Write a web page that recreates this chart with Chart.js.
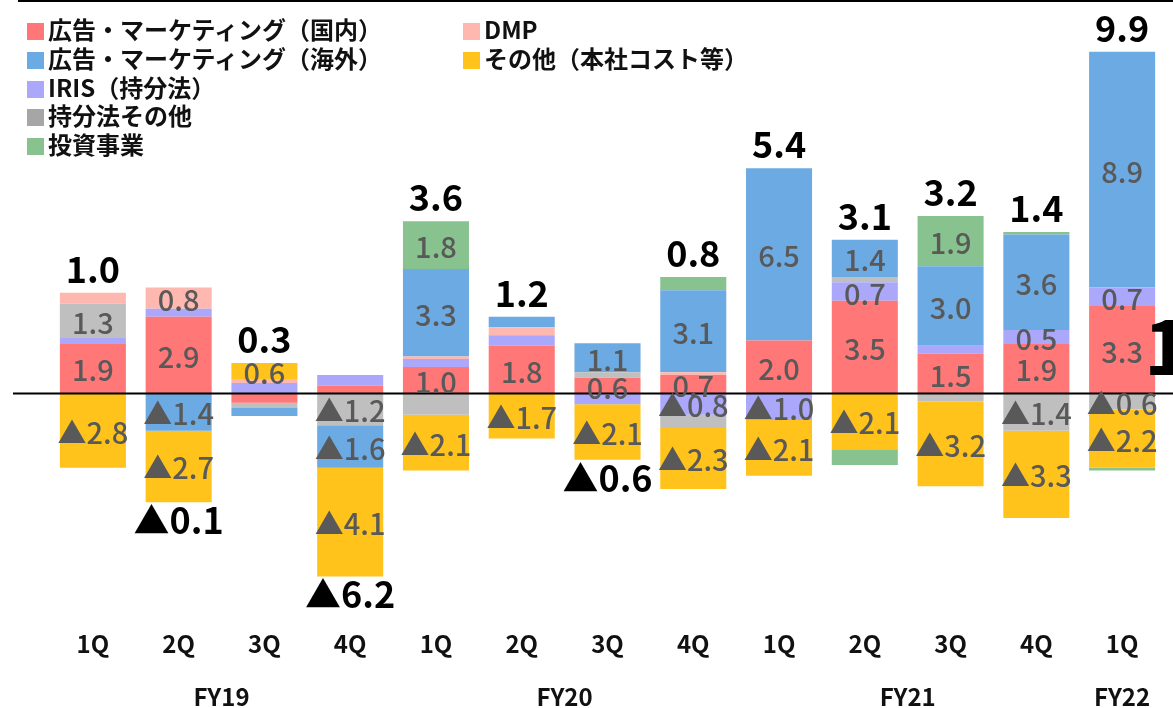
<!DOCTYPE html>
<html>
<head>
<meta charset="utf-8">
<script src="https://cdn.jsdelivr.net/npm/chart.js@4.4.1/dist/chart.umd.min.js"></script>
<style>
html, body { margin: 0; padding: 0; background: #fff; }
#wrap { position: relative; width: 1173px; height: 708px; overflow: hidden; }
#chart { position: absolute; left: 0; top: 0; }
#topline { position: absolute; left: 18px; top: 0; width: 1155px; height: 2px; background: #000; }
.legend { position: absolute; font-family: "Noto Sans CJK JP", sans-serif; font-weight: bold; font-size: 24px; color: #111; line-height: 28.8px; }
.legend div { white-space: nowrap; }
.legend span { display: inline-block; width: 17px; height: 17px; margin-right: 4px; vertical-align: -1px; }
</style>
</head>
<body>
<div id="wrap">
  <canvas id="chart" width="1173" height="708"></canvas>
  <div id="topline"></div>
  <div class="legend" id="legendLeft" style="left:27px; top:15px;"></div>
  <div class="legend" id="legendRight" style="left:463px; top:15px;"></div>
</div>
<script>
// quarters, FY19 1Q .. FY22 1Q
const quarters = ['1Q', '2Q', '3Q', '4Q', '1Q', '2Q', '3Q', '4Q', '1Q', '2Q', '3Q', '4Q', '1Q'];
const fiscalYears = ['FY19', 'FY20', 'FY21', 'FY22'];
const fyFirstQuarter = [0, 4, 8, 12];
const fyLastQuarter = [3, 7, 11, 12];

// segment values (億円), negative = loss
const domestic    = [1.9, 2.9, -0.35, 0.3, 1.0, 1.8, 0.6, 0.7, 2.0, 3.5, 1.5, 1.9, 3.3];
const iris        = [0.2, 0.3, 0.4, 0.4, 0.3, 0.4, -0.4, -0.8, -1.0, 0.7, 0.3, 0.5, 0.7];
const equityOther = [1.3, 0, -0.2, -1.2, -0.8, 0, 0.2, -0.5, 0, 0.2, -0.3, -1.4, -0.6];
const dmp         = [0.4, 0.8, 0.15, 0, 0.1, 0.3, 0, 0.1, 0, 0, 0, 0, 0];
const overseas    = [0, -1.4, -0.3, -1.6, 3.3, 0.4, 1.1, 3.1, 6.5, 1.4, 3.0, 3.6, 8.9];
const otherCost   = [-2.8, -2.7, 0.6, -4.1, -2.1, -1.7, -2.1, -2.3, -2.1, -2.1, -3.2, -3.3, -2.2];
const investment  = [0, 0, 0, 0, 1.8, 0, 0, 0.5, 0, -0.6, 1.9, 0.1, -0.1];

// quarter totals as printed
const totals = [1.0, -0.1, 0.3, -6.2, 3.6, 1.2, -0.6, 0.8, 5.4, 3.1, 3.2, 1.4, 9.9];

// stacking order (first = closest to zero)
const series = [
  { label: '広告・マーケティング（国内）', data: domestic, color: '#FF7777', hide: [] },
  { label: 'IRIS（持分法）', data: iris, color: '#ABA7FA', hide: [] },
  { label: '持分法その他', data: equityOther, color: '#BFBFBF', legendColor: '#A6A6A6', hide: [4, 7] },
  { label: 'DMP', data: dmp, color: '#FFB8B0', hide: [] },
  { label: '広告・マーケティング（海外）', data: overseas, color: '#6BAAE3', hide: [] },
  { label: 'その他（本社コスト等）', data: otherCost, color: '#FFC31C', hide: [] },
  { label: '投資事業', data: investment, color: '#88C28E', hide: [7, 9] }
];

const legendLeft = ['広告・マーケティング（国内）', '広告・マーケティング（海外）', 'IRIS（持分法）', '持分法その他', '投資事業'];
const legendRight = ['DMP', 'その他（本社コスト等）'];

function fillLegend(id, names) {
  const box = document.getElementById(id);
  names.forEach(name => {
    const s = series.find(x => x.label === name);
    const row = document.createElement('div');
    const sw = document.createElement('span');
    sw.style.background = s.legendColor || s.color;
    row.appendChild(sw);
    row.appendChild(document.createTextNode(name));
    box.appendChild(row);
  });
}
fillLegend('legendLeft', legendLeft);
fillLegend('legendRight', legendRight);

const FONT = '"Noto Sans CJK JP", sans-serif';

function fmt(v) {
  return v < 0 ? '▲' + (-v).toFixed(1) : v.toFixed(1);
}

const overlay = {
  id: 'overlay',
  afterDatasetsDraw(chart) {
    const ctx = chart.ctx;
    const yScale = chart.scales.y;
    const xScale = chart.scales.x;
    const y0 = yScale.getPixelForValue(0);

    // zero line
    ctx.save();
    ctx.strokeStyle = '#000';
    ctx.lineWidth = 2;
    ctx.beginPath();
    ctx.moveTo(13, y0);
    ctx.lineTo(chart.width, y0);
    ctx.stroke();

    // segment labels
    ctx.font = '500 29px ' + FONT;
    ctx.fillStyle = '#595959';
    ctx.textAlign = 'center';
    ctx.textBaseline = 'middle';
    chart.data.datasets.forEach((ds, di) => {
      const meta = chart.getDatasetMeta(di);
      meta.data.forEach((bar, i) => {
        const v = ds.data[i];
        if (Math.abs(v) < 0.5 || series[di].hide.includes(i)) return;
        ctx.fillText(fmt(v), bar.x, (bar.y + bar.base) / 2 + 2);
      });
    });

    // totals
    ctx.font = 'bold 36px ' + FONT;
    ctx.fillStyle = '#000';
    ctx.textBaseline = 'alphabetic';
    totals.forEach((t, i) => {
      let top = y0, bottom = y0, x = 0;
      chart.data.datasets.forEach((ds, di) => {
        const bar = chart.getDatasetMeta(di).data[i];
        x = bar.x;
        if (ds.data[i] > 0) top = Math.min(top, bar.y);
        if (ds.data[i] < 0) bottom = Math.max(bottom, bar.y);
      });
      if (t >= 0) ctx.fillText(fmt(t), x, top - 10);
      else ctx.fillText(fmt(t), x, bottom + 32);
    });

    // fiscal year labels
    ctx.font = 'bold 24px ' + FONT;
    ctx.fillStyle = '#111';
    ctx.textBaseline = 'middle';
    fiscalYears.forEach((fy, k) => {
      const x = (xScale.getPixelForTick(fyFirstQuarter[k]) + xScale.getPixelForTick(fyLastQuarter[k])) / 2;
      ctx.fillText(fy, x, 697);
    });

    // clipped callout glyph at right edge
    ctx.font = 'bold 76px ' + FONT;
    ctx.fillStyle = '#000';
    ctx.textAlign = 'left';
    ctx.textBaseline = 'alphabetic';
    ctx.fillText('1', 1144, 375);
    ctx.restore();
  }
};

new Chart(document.getElementById('chart'), {
  type: 'bar',
  data: {
    labels: quarters,
    datasets: series.map(s => ({
      label: s.label,
      data: s.data,
      backgroundColor: s.color,
      borderWidth: 0,
      barPercentage: 0.77,
      categoryPercentage: 1
    }))
  },
  options: {
    responsive: false,
    animation: false,
    layout: { padding: { left: 50, right: 8, top: 0, bottom: 38 } },
    scales: {
      x: {
        stacked: true,
        grid: { display: false, drawTicks: false },
        border: { display: false },
        ticks: { color: '#111', padding: 12, font: { family: FONT, size: 24, weight: 'bold' } }
      },
      y: {
        stacked: true,
        display: false,
        min: -8.44,
        max: 14.85
      }
    },
    plugins: {
      legend: { display: false },
      tooltip: { enabled: false }
    }
  },
  plugins: [overlay]
});
</script>
</body>
</html>
